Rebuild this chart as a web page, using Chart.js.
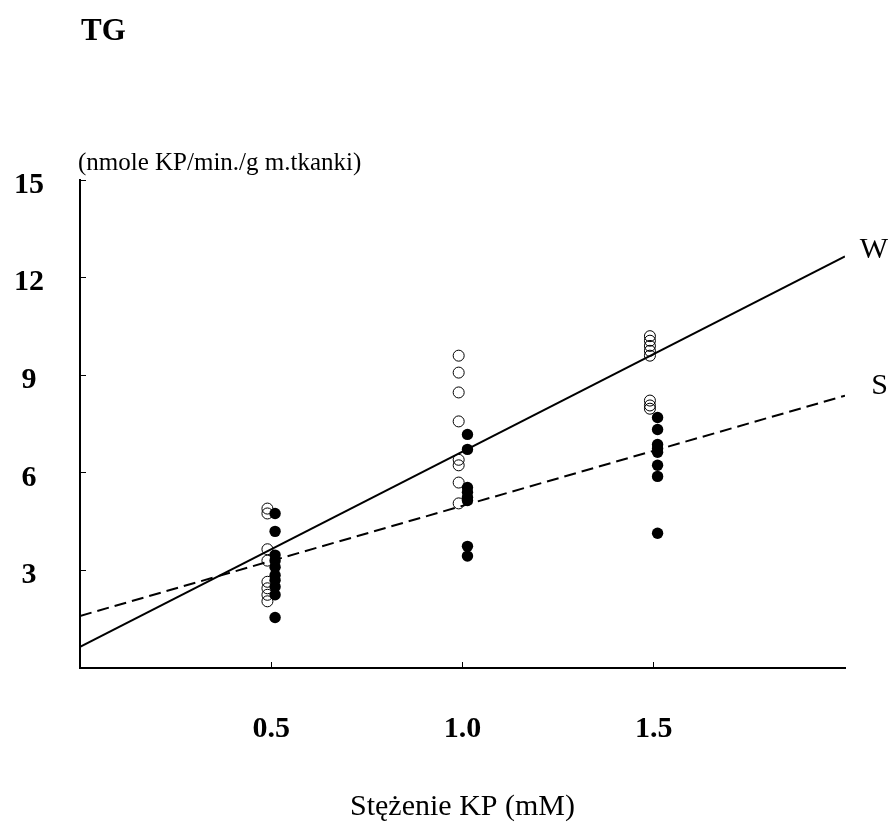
<!DOCTYPE html>
<html>
<head>
<meta charset="utf-8">
<script src="https://cdn.jsdelivr.net/npm/chart.js@4/dist/chart.umd.min.js"></script>
<style>
  html, body { margin: 0; padding: 0; background: #fff; }
  canvas { display: block; }
</style>
</head>
<body>
<canvas id="chart" width="892" height="827"></canvas>
<script>
// KP concentrations (mM) and TG rates, open circles = W, filled circles = S
const concentrations = [0.5, 1.0, 1.5];
const openX = [0.49, 0.99, 1.49];
const filledX = [0.51, 1.013, 1.51];
const openValues = [
  [4.9, 4.75, 3.65, 3.3, 2.65, 2.45, 2.25, 2.05],
  [9.6, 9.08, 8.47, 7.58, 6.4, 6.23, 5.7, 5.06],
  [10.2, 10.06, 9.9, 9.75, 9.6, 8.22, 8.07, 7.97],
];
const filledValues = [
  [4.75, 4.2, 3.47, 3.3, 3.1, 2.85, 2.7, 2.5, 2.25, 1.55],
  [7.18, 6.72, 5.55, 5.4, 5.25, 5.15, 3.74, 3.44],
  [7.7, 7.33, 6.87, 6.75, 6.63, 6.23, 5.89, 4.14],
];
// regression lines, ends at 0 and 2 mM
const lineX = [0, 2];
const lineW = [0.65, 12.65];
const lineS = [1.6, 8.37];
const yTicks = [3, 6, 9, 12, 15];

const SERIF = "'Liberation Serif', 'Times New Roman', serif";

const toPoints = (groups, xs) => groups.flatMap((vals, i) => vals.map((v) => ({ x: xs[i], y: v })));
const toLine = (ys) => lineX.map((x, i) => ({ x, y: ys[i] }));

// texts outside the plot: title, y unit, line names
const annotations = {
  id: 'annotations',
  afterDraw(chart) {
    const { ctx, chartArea, scales } = chart;
    ctx.save();
    ctx.fillStyle = '#000';
    ctx.textBaseline = 'alphabetic';

    ctx.font = `bold 31px ${SERIF}`;
    ctx.textAlign = 'left';
    ctx.fillText('TG', chartArea.left + 1, 40);

    ctx.font = `25px ${SERIF}`;
    ctx.fillText('(nmole KP/min./g m.tkanki)', chartArea.left - 2, chartArea.top - 10);

    const xEnd = scales.x.getPixelForValue(lineX[1]);
    ctx.font = `30px ${SERIF}`;
    ctx.textAlign = 'right';
    ctx.fillText('W', xEnd + 43, scales.y.getPixelForValue(lineW[1]) + 2);
    ctx.fillText('S', xEnd + 43, scales.y.getPixelForValue(lineS[1]) - 2);
    ctx.restore();
  },
};

const chart = new Chart(document.getElementById('chart'), {
  type: 'scatter',
  data: {
    datasets: [
      {
        label: 'W',
        data: toLine(lineW),
        showLine: true,
        borderColor: '#000',
        borderWidth: 2,
        pointRadius: 0,
      },
      {
        label: 'S',
        data: toLine(lineS),
        showLine: true,
        borderColor: '#000',
        borderWidth: 2,
        borderDash: [12, 6],
        pointRadius: 0,
      },
      {
        label: 'W points',
        data: toPoints(openValues, openX),
        pointStyle: 'circle',
        pointRadius: 5.5,
        borderColor: '#000',
        borderWidth: 1,
        backgroundColor: 'rgba(0,0,0,0)',
      },
      {
        label: 'S points',
        data: toPoints(filledValues, filledX),
        pointStyle: 'circle',
        pointRadius: 5.7,
        borderColor: '#000',
        borderWidth: 0,
        backgroundColor: '#000',
      },
    ],
  },
  options: {
    responsive: false,
    animation: false,
    devicePixelRatio: 1,
    layout: { padding: { top: 180, right: 47, left: 0, bottom: 0 } },
    plugins: {
      legend: { display: false },
      tooltip: { enabled: false },
    },
    scales: {
      x: {
        type: 'linear',
        min: 0,
        max: 2,
        afterFit(scale) { scale.height = 159; },
        afterBuildTicks(scale) { scale.ticks = concentrations.map((value) => ({ value })); },
        border: { color: '#000', width: 2 },
        grid: { drawOnChartArea: false, tickLength: -6, color: '#000', lineWidth: 1 },
        ticks: {
          padding: 49,
          color: '#000',
          font: { family: SERIF, size: 30, weight: 'bold' },
          callback: (v) => v.toFixed(1),
        },
        title: {
          display: true,
          text: 'Stężenie KP (mM)',
          color: '#000',
          font: { family: SERIF, size: 30 },
          padding: { top: 0, bottom: 2 },
        },
      },
      y: {
        min: 0,
        max: 15,
        afterFit(scale) { scale.width = 80; },
        afterBuildTicks(scale) { scale.ticks = [0, ...yTicks].map((value) => ({ value })); },
        border: { color: '#000', width: 2 },
        grid: { drawOnChartArea: false, tickLength: -6, color: '#000', lineWidth: 1 },
        ticks: {
          padding: 42,
          labelOffset: 5,
          crossAlign: 'center',
          color: '#000',
          font: { family: SERIF, size: 30, weight: 'bold' },
          callback: (v) => (v === 0 ? '' : v),
        },
      },
    },
  },
  plugins: [annotations],
});
</script>
</body>
</html>
